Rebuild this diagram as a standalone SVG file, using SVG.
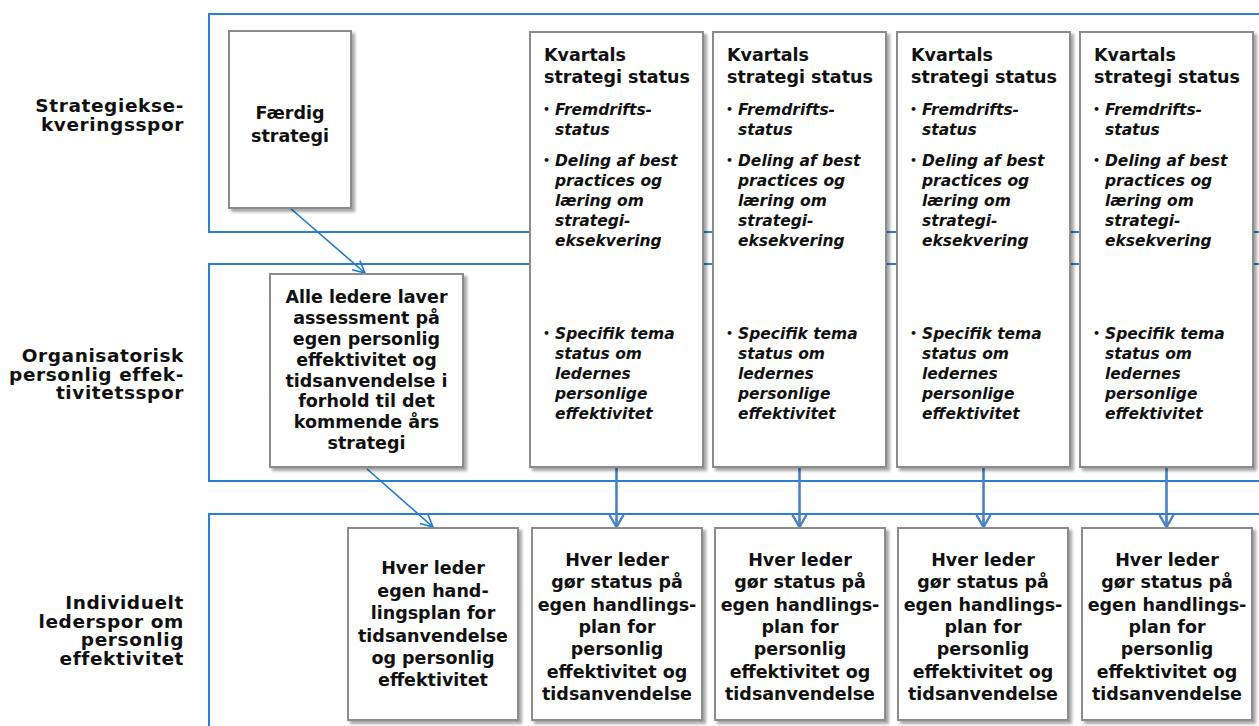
<svg xmlns="http://www.w3.org/2000/svg" width="1259" height="726" viewBox="0 0 1259 726">
<style>
.lane{fill:none;stroke:#2b7fcf;stroke-width:2}
.box{fill:#fff;stroke:#8c8c8c;stroke-width:2;filter:url(#sh)}
.t{font-family:"DejaVu Sans",Verdana,sans-serif;font-weight:bold;fill:#111}
.lbl{font-size:18.5px;text-anchor:end;letter-spacing:0.6px}
.bt{font-size:17.5px;text-anchor:middle}
.ti{font-size:17.5px}
.it{font-size:15.5px;font-style:italic}
.bul{font-size:11px;font-style:normal}
.diag{stroke:#1f7ad2;stroke-width:1.6;fill:none}
.vert{stroke:#4a80c4;stroke-width:2.6;fill:none}
</style>
<defs>
<filter id="sh" x="-10%" y="-10%" width="130%" height="130%">
<feDropShadow dx="3" dy="3" stdDeviation="1.8" flood-color="#000" flood-opacity="0.35"/>
</filter>
<marker id="ad" markerUnits="userSpaceOnUse" markerWidth="16" markerHeight="16" viewBox="0 0 16 16" refX="14" refY="8" orient="auto">
<path d="M2,2 L14,8 L2,14" fill="none" stroke="#1f7ad2" stroke-width="1.6"/>
</marker>
<marker id="av" markerUnits="userSpaceOnUse" markerWidth="18" markerHeight="18" viewBox="0 0 18 18" refX="15" refY="9" orient="auto">
<path d="M3,2 L15,9 L3,16" fill="none" stroke="#4a80c4" stroke-width="2.4"/>
</marker>
</defs>
<rect width="1259" height="726" fill="#fff"/>

<g id="lanes">
<rect class="lane" x="209" y="14" width="1100" height="218"/>
<rect class="lane" x="209" y="264" width="1100" height="217"/>
<rect class="lane" x="209" y="514" width="1100" height="260"/>
</g>

<g id="lane-labels">
<text class="t lbl"><tspan x="184" y="112">Strategiekse-</tspan><tspan x="184" y="130.5">kveringsspor</tspan></text>
<text class="t lbl"><tspan x="184" y="362">Organisatorisk</tspan><tspan x="184" y="380.5">personlig effek-</tspan><tspan x="184" y="399">tivitetsspor</tspan></text>
<text class="t lbl"><tspan x="184" y="609">Individuelt</tspan><tspan x="184" y="627.5">lederspor om</tspan><tspan x="184" y="646">personlig</tspan><tspan x="184" y="664.5">effektivitet</tspan></text>
</g>

<g id="connectors">
<line class="diag" x1="290" y1="208" x2="365" y2="273" marker-end="url(#ad)"/>
<line class="diag" x1="367" y1="469" x2="433" y2="527" marker-end="url(#ad)"/>
<line class="vert" x1="616.5" y1="468" x2="616.5" y2="527" marker-end="url(#av)"/>
<line class="vert" x1="799.5" y1="468" x2="799.5" y2="527" marker-end="url(#av)"/>
<line class="vert" x1="983.5" y1="468" x2="983.5" y2="527" marker-end="url(#av)"/>
<line class="vert" x1="1166.5" y1="468" x2="1166.5" y2="527" marker-end="url(#av)"/>
</g>

<g id="faerdig-strategi">
<rect class="box" x="229" y="31" width="122" height="177"/>
<text class="t bt"><tspan x="290" y="119">Færdig</tspan><tspan x="290" y="142">strategi</tspan></text>
</g>

<g id="alle-ledere">
<rect class="box" x="270" y="274" width="193" height="193"/>
<text class="t bt"><tspan x="366.5" y="303">Alle ledere laver</tspan><tspan x="366.5" y="324">assessment på</tspan><tspan x="366.5" y="345">egen personlig</tspan><tspan x="366.5" y="366">effektivitet og</tspan><tspan x="366.5" y="387">tidsanvendelse i</tspan><tspan x="366.5" y="407">forhold til det</tspan><tspan x="366.5" y="428">kommende års</tspan><tspan x="366.5" y="449">strategi</tspan></text>
</g>

<g id="kvartal-1">
<rect class="box" x="530" y="32" width="173" height="435"/>
<text class="t ti"><tspan x="544" y="61">Kvartals</tspan><tspan x="544" y="83">strategi status</tspan></text>
<text class="t it"><tspan class="bul" x="543" y="113">•</tspan><tspan x="555" y="115">Fremdrifts-</tspan><tspan x="555" y="135">status</tspan><tspan class="bul" x="543" y="164">•</tspan><tspan x="555" y="166">Deling af best</tspan><tspan x="555" y="186">practices og</tspan><tspan x="555" y="206">læring om</tspan><tspan x="555" y="226">strategi-</tspan><tspan x="555" y="246">eksekvering</tspan><tspan class="bul" x="543" y="337">•</tspan><tspan x="555" y="339">Specifik tema</tspan><tspan x="555" y="359">status om</tspan><tspan x="555" y="379">ledernes</tspan><tspan x="555" y="399">personlige</tspan><tspan x="555" y="419">effektivitet</tspan></text>
</g>

<g id="kvartal-2">
<rect class="box" x="713" y="32" width="173" height="435"/>
<text class="t ti"><tspan x="727" y="61">Kvartals</tspan><tspan x="727" y="83">strategi status</tspan></text>
<text class="t it"><tspan class="bul" x="726" y="113">•</tspan><tspan x="738" y="115">Fremdrifts-</tspan><tspan x="738" y="135">status</tspan><tspan class="bul" x="726" y="164">•</tspan><tspan x="738" y="166">Deling af best</tspan><tspan x="738" y="186">practices og</tspan><tspan x="738" y="206">læring om</tspan><tspan x="738" y="226">strategi-</tspan><tspan x="738" y="246">eksekvering</tspan><tspan class="bul" x="726" y="337">•</tspan><tspan x="738" y="339">Specifik tema</tspan><tspan x="738" y="359">status om</tspan><tspan x="738" y="379">ledernes</tspan><tspan x="738" y="399">personlige</tspan><tspan x="738" y="419">effektivitet</tspan></text>
</g>

<g id="kvartal-3">
<rect class="box" x="897" y="32" width="173" height="435"/>
<text class="t ti"><tspan x="911" y="61">Kvartals</tspan><tspan x="911" y="83">strategi status</tspan></text>
<text class="t it"><tspan class="bul" x="910" y="113">•</tspan><tspan x="922" y="115">Fremdrifts-</tspan><tspan x="922" y="135">status</tspan><tspan class="bul" x="910" y="164">•</tspan><tspan x="922" y="166">Deling af best</tspan><tspan x="922" y="186">practices og</tspan><tspan x="922" y="206">læring om</tspan><tspan x="922" y="226">strategi-</tspan><tspan x="922" y="246">eksekvering</tspan><tspan class="bul" x="910" y="337">•</tspan><tspan x="922" y="339">Specifik tema</tspan><tspan x="922" y="359">status om</tspan><tspan x="922" y="379">ledernes</tspan><tspan x="922" y="399">personlige</tspan><tspan x="922" y="419">effektivitet</tspan></text>
</g>

<g id="kvartal-4">
<rect class="box" x="1080" y="32" width="173" height="435"/>
<text class="t ti"><tspan x="1094" y="61">Kvartals</tspan><tspan x="1094" y="83">strategi status</tspan></text>
<text class="t it"><tspan class="bul" x="1093" y="113">•</tspan><tspan x="1105" y="115">Fremdrifts-</tspan><tspan x="1105" y="135">status</tspan><tspan class="bul" x="1093" y="164">•</tspan><tspan x="1105" y="166">Deling af best</tspan><tspan x="1105" y="186">practices og</tspan><tspan x="1105" y="206">læring om</tspan><tspan x="1105" y="226">strategi-</tspan><tspan x="1105" y="246">eksekvering</tspan><tspan class="bul" x="1093" y="337">•</tspan><tspan x="1105" y="339">Specifik tema</tspan><tspan x="1105" y="359">status om</tspan><tspan x="1105" y="379">ledernes</tspan><tspan x="1105" y="399">personlige</tspan><tspan x="1105" y="419">effektivitet</tspan></text>
</g>

<g id="handlingsplan">
<rect class="box" x="348" y="528" width="170" height="192"/>
<text class="t bt"><tspan x="433" y="574">Hver leder</tspan><tspan x="433" y="597">egen hand-</tspan><tspan x="433" y="619">lingsplan for</tspan><tspan x="433" y="642">tidsanvendelse</tspan><tspan x="433" y="664">og personlig</tspan><tspan x="433" y="686">effektivitet</tspan></text>
</g>

<g id="status-1">
<rect class="box" x="532" y="528" width="170" height="192"/>
<text class="t bt"><tspan x="617" y="566">Hver leder</tspan><tspan x="617" y="588">gør status på</tspan><tspan x="617" y="611">egen handlings-</tspan><tspan x="617" y="633">plan for</tspan><tspan x="617" y="655">personlig</tspan><tspan x="617" y="678">effektivitet og</tspan><tspan x="617" y="700">tidsanvendelse</tspan></text>
</g>

<g id="status-2">
<rect class="box" x="715" y="528" width="170" height="192"/>
<text class="t bt"><tspan x="800" y="566">Hver leder</tspan><tspan x="800" y="588">gør status på</tspan><tspan x="800" y="611">egen handlings-</tspan><tspan x="800" y="633">plan for</tspan><tspan x="800" y="655">personlig</tspan><tspan x="800" y="678">effektivitet og</tspan><tspan x="800" y="700">tidsanvendelse</tspan></text>
</g>

<g id="status-3">
<rect class="box" x="898" y="528" width="170" height="192"/>
<text class="t bt"><tspan x="983" y="566">Hver leder</tspan><tspan x="983" y="588">gør status på</tspan><tspan x="983" y="611">egen handlings-</tspan><tspan x="983" y="633">plan for</tspan><tspan x="983" y="655">personlig</tspan><tspan x="983" y="678">effektivitet og</tspan><tspan x="983" y="700">tidsanvendelse</tspan></text>
</g>

<g id="status-4">
<rect class="box" x="1082" y="528" width="170" height="192"/>
<text class="t bt"><tspan x="1167" y="566">Hver leder</tspan><tspan x="1167" y="588">gør status på</tspan><tspan x="1167" y="611">egen handlings-</tspan><tspan x="1167" y="633">plan for</tspan><tspan x="1167" y="655">personlig</tspan><tspan x="1167" y="678">effektivitet og</tspan><tspan x="1167" y="700">tidsanvendelse</tspan></text>
</g>
</svg>
